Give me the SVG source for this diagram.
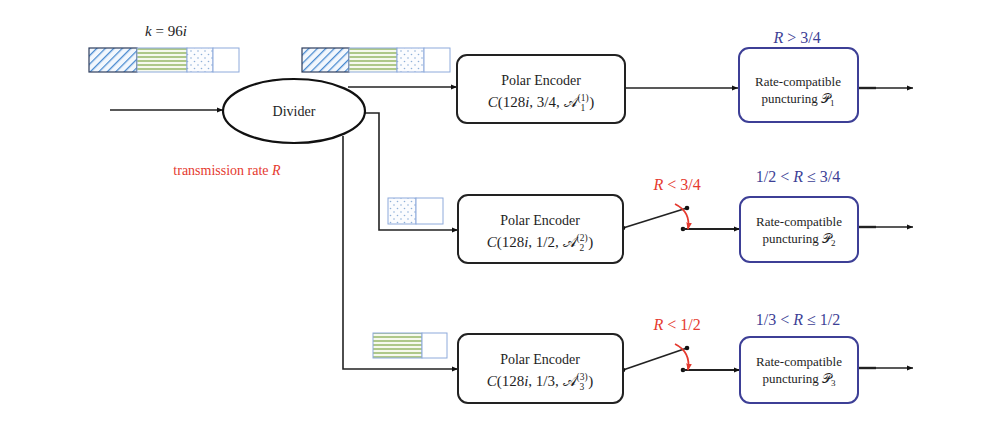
<svg xmlns="http://www.w3.org/2000/svg" width="1007" height="445" viewBox="0 0 1007 445">
<defs>
<style>
.t{font-family:"Liberation Serif","Times New Roman",serif;fill:#1e1e1e}
.m{font-family:"Liberation Serif","DejaVu Serif",serif;font-style:italic}
.enc{fill:#fff;stroke:#222;stroke-width:2}
.pb{fill:#fff;stroke:#3d3f96;stroke-width:2}
.ln{fill:none;stroke:#222;stroke-width:1.6}
.thk{fill:none;stroke:#222;stroke-width:2.4}
.blue{fill:#3d3f96;font-size:16px}
.red{fill:#e53a2f;font-size:16px}
.sw{fill:none;stroke:#222;stroke-width:1.8}
</style>
<pattern id="hatch" width="6" height="6" patternUnits="userSpaceOnUse" patternTransform="rotate(45)">
<rect width="6" height="6" fill="#f2f7fd"/>
<line x1="0" y1="0" x2="0" y2="6" stroke="#4a8bd0" stroke-width="2.6"/>
</pattern>
<pattern id="hz" width="6" height="4" patternUnits="userSpaceOnUse">
<rect width="6" height="4" fill="#f6f9ee"/>
<line x1="0" y1="1" x2="6" y2="1" stroke="#8fb35e" stroke-width="1.4"/>
</pattern>
<pattern id="dots" width="7" height="7" patternUnits="userSpaceOnUse">
<rect width="7" height="7" fill="#fbfcfe"/>
<circle cx="2" cy="2" r="0.8" fill="#8fb0d8"/>
<circle cx="5.5" cy="5.5" r="0.8" fill="#8fb0d8"/>
</pattern>
<marker id="ar" viewBox="0 0 10 10" refX="10" refY="5" markerWidth="6" markerHeight="6" orient="auto" markerUnits="userSpaceOnUse">
<path d="M0,1 L10,5 L0,9 Z" fill="#111"/>
</marker>
<marker id="arr" viewBox="0 0 10 10" refX="9" refY="5" markerWidth="7" markerHeight="7" orient="auto" markerUnits="userSpaceOnUse">
<path d="M0,1 L10,5 L0,9 Z" fill="#e53a2f"/>
</marker>
</defs>
<rect width="1007" height="445" fill="#fff"/>

<g id="input-bar">
<text class="t m" x="166" y="36" font-size="15" text-anchor="middle">k <tspan font-style="normal">=</tspan> <tspan font-style="normal">96</tspan>i</text>
<rect x="89" y="48" width="48" height="24" fill="url(#hatch)" stroke="#2d3d5c" stroke-width="1.2"/>
<rect x="137" y="48" width="50" height="24" fill="url(#hz)" stroke="#8eaadb" stroke-width="1"/>
<rect x="187" y="48" width="26" height="24" fill="url(#dots)" stroke="#8eaadb" stroke-width="1"/>
<rect x="213" y="48" width="26" height="24" fill="#fff" stroke="#8eaadb" stroke-width="1"/>
</g>

<g id="bar-1">
<rect x="302" y="48" width="47" height="24" fill="url(#hatch)" stroke="#2d3d5c" stroke-width="1.2"/>
<rect x="349" y="48" width="48" height="24" fill="url(#hz)" stroke="#8eaadb" stroke-width="1"/>
<rect x="397" y="48" width="27" height="24" fill="url(#dots)" stroke="#8eaadb" stroke-width="1"/>
<rect x="424" y="48" width="26" height="24" fill="#fff" stroke="#8eaadb" stroke-width="1"/>
</g>

<g id="bar-2">
<rect x="388" y="198" width="28" height="26" fill="url(#dots)" stroke="#8eaadb" stroke-width="1"/>
<rect x="416" y="198" width="27" height="26" fill="#fff" stroke="#8eaadb" stroke-width="1"/>
</g>

<g id="bar-3">
<rect x="373" y="333" width="49" height="25" fill="url(#hz)" stroke="#8eaadb" stroke-width="1"/>
<rect x="422" y="333" width="25" height="25" fill="#fff" stroke="#8eaadb" stroke-width="1"/>
</g>

<g id="connectors">
<line class="ln" x1="110" y1="110" x2="223" y2="110" marker-end="url(#ar)"/>
<polyline class="ln" points="348,87 457,87" marker-end="url(#ar)"/>
<polyline class="ln" points="363,113 379,113 379,230 458,230" marker-end="url(#ar)"/>
<polyline class="ln" points="343,136 343,369 458,369" marker-end="url(#ar)"/>
<line class="ln" x1="625" y1="88" x2="738" y2="88" marker-end="url(#ar)"/>
<line class="thk" x1="858" y1="88" x2="876" y2="88"/>
<line class="ln" x1="870" y1="88" x2="913" y2="88" marker-end="url(#ar)"/>
<line class="thk" x1="858" y1="227" x2="876" y2="227"/>
<line class="ln" x1="870" y1="227" x2="913" y2="227" marker-end="url(#ar)"/>
<line class="thk" x1="858" y1="368" x2="876" y2="368"/>
<line class="ln" x1="870" y1="368" x2="913" y2="368" marker-end="url(#ar)"/>
<line class="sw" x1="623" y1="228" x2="687" y2="208"/>
<circle cx="623" cy="228" r="2.3" fill="#111"/>
<circle cx="687" cy="208" r="2.3" fill="#111"/>
<circle cx="683" cy="229" r="2.3" fill="#111"/>
<line class="sw" x1="683" y1="229" x2="740" y2="229" marker-end="url(#ar)"/>
<path d="M675,204 Q691,212 688,229" fill="none" stroke="#e53a2f" stroke-width="1.8" marker-end="url(#arr)"/>
<line class="sw" x1="623" y1="370" x2="687" y2="348"/>
<circle cx="623" cy="370" r="2.3" fill="#111"/>
<circle cx="687" cy="348" r="2.3" fill="#111"/>
<circle cx="683" cy="370" r="2.3" fill="#111"/>
<line class="sw" x1="683" y1="370" x2="740" y2="370" marker-end="url(#ar)"/>
<path d="M675,344 Q691,352 688,370" fill="none" stroke="#e53a2f" stroke-width="1.8" marker-end="url(#arr)"/>
</g>

<g id="divider">
<ellipse cx="294" cy="111" rx="71" ry="32" fill="#fff" stroke="#111" stroke-width="2.2"/>
<text class="t" x="294" y="116" font-size="14" text-anchor="middle">Divider</text>
</g>

<text class="t" x="227" y="175" font-size="14" text-anchor="middle" style="fill:#e53a2f">transmission rate <tspan font-style="italic">R</tspan></text>

<g id="encoder-1">
<rect class="enc" x="457" y="55" width="168" height="68" rx="10"/>
<text class="t" x="541" y="85" font-size="14" text-anchor="middle">Polar Encoder</text>
<text class="t" x="541" y="107" font-size="15" text-anchor="middle"><tspan font-style="italic">C</tspan>(128<tspan font-style="italic">i</tspan>, 3/4, 𝒜<tspan font-size="9.5" dy="-6">(1)</tspan><tspan font-size="9.5" dx="-8" dy="10">1</tspan><tspan dx="4" dy="-4">)</tspan></text>
</g>

<g id="encoder-2">
<rect class="enc" x="458" y="195" width="165" height="68" rx="10"/>
<text class="t" x="540" y="225" font-size="14" text-anchor="middle">Polar Encoder</text>
<text class="t" x="540" y="247" font-size="15" text-anchor="middle"><tspan font-style="italic">C</tspan>(128<tspan font-style="italic">i</tspan>, 1/2, 𝒜<tspan font-size="9.5" dy="-6">(2)</tspan><tspan font-size="9.5" dx="-8" dy="10">2</tspan><tspan dx="4" dy="-4">)</tspan></text>
</g>

<g id="encoder-3">
<rect class="enc" x="458" y="334" width="165" height="69" rx="10"/>
<text class="t" x="540" y="364" font-size="14" text-anchor="middle">Polar Encoder</text>
<text class="t" x="540" y="386" font-size="15" text-anchor="middle"><tspan font-style="italic">C</tspan>(128<tspan font-style="italic">i</tspan>, 1/3, 𝒜<tspan font-size="9.5" dy="-6">(3)</tspan><tspan font-size="9.5" dx="-8" dy="10">3</tspan><tspan dx="4" dy="-4">)</tspan></text>
</g>

<g id="punct-1">
<rect class="pb" x="739" y="48" width="119" height="74" rx="10"/>
<text class="t" x="798" y="86" font-size="13" text-anchor="middle">Rate-compatible</text>
<text class="t" x="798" y="103" font-size="13" text-anchor="middle">puncturing 𝒫<tspan font-size="9" dy="3">1</tspan></text>
<text class="t m blue" x="797" y="43" text-anchor="middle" style="fill:#3d3f96">R <tspan font-style="normal">&gt; 3/4</tspan></text>
</g>

<g id="punct-2">
<rect class="pb" x="740" y="197" width="118" height="65" rx="10"/>
<text class="t" x="799" y="226" font-size="13" text-anchor="middle">Rate-compatible</text>
<text class="t" x="799" y="243" font-size="13" text-anchor="middle">puncturing 𝒫<tspan font-size="9" dy="3">2</tspan></text>
<text class="t blue" x="798" y="182" text-anchor="middle" style="fill:#3d3f96">1/2 &lt; <tspan font-style="italic">R</tspan> ≤ 3/4</text>
<text class="t red" x="677" y="190" text-anchor="middle" style="fill:#e53a2f"><tspan font-style="italic">R</tspan> &lt; 3/4</text>
</g>

<g id="punct-3">
<rect class="pb" x="740" y="337" width="118" height="66" rx="10"/>
<text class="t" x="799" y="366" font-size="13" text-anchor="middle">Rate-compatible</text>
<text class="t" x="799" y="383" font-size="13" text-anchor="middle">puncturing 𝒫<tspan font-size="9" dy="3">3</tspan></text>
<text class="t blue" x="798" y="325" text-anchor="middle" style="fill:#3d3f96">1/3 &lt; <tspan font-style="italic">R</tspan> ≤ 1/2</text>
<text class="t red" x="677" y="330" text-anchor="middle" style="fill:#e53a2f"><tspan font-style="italic">R</tspan> &lt; 1/2</text>
</g>
</svg>
